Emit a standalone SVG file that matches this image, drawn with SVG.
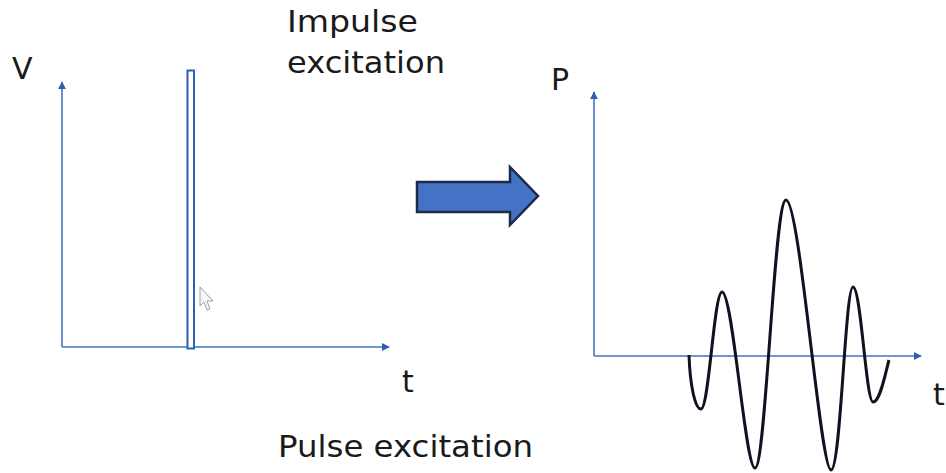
<svg xmlns="http://www.w3.org/2000/svg" width="946" height="473" viewBox="0 0 946 473">
<style>
.lbl{font-family:"DejaVu Sans","Verdana",sans-serif;font-size:30px;fill:#1a1a1a}
.axis{stroke:#4472C4;stroke-width:1.6;fill:none}
</style>
<defs>
<marker id="ah" viewBox="0 0 10 10" refX="9" refY="5" markerWidth="8" markerHeight="8" markerUnits="userSpaceOnUse" orient="auto">
<path d="M0,0 L10,5 L0,10 Z" fill="#2e5fb5"/>
</marker>
</defs>
<rect width="946" height="473" fill="#ffffff"/>
<g id="connectors">
<line class="axis" x1="62" y1="347" x2="62" y2="82" marker-end="url(#ah)"/>
<line class="axis" x1="62" y1="347" x2="389" y2="347" marker-end="url(#ah)"/>
<line class="axis" x1="594" y1="356" x2="594" y2="92" marker-end="url(#ah)"/>
<line class="axis" x1="594" y1="356" x2="921" y2="356" marker-end="url(#ah)"/>
</g>
<g id="impulse">
<rect x="187.5" y="70.5" width="6.5" height="278" fill="#ffffff" stroke="#2e5fb5" stroke-width="2"/>
</g>
<g id="block-arrow">
<path d="M417,182 L510,182 L510,167 L538,196 L510,225 L510,212 L417,212 Z" fill="#4472C4" stroke="#1c2a48" stroke-width="2.5" stroke-linejoin="miter"/>
</g>
<g id="wave">
<path d="M689,355 C690,385 695,409 701,409 C709,409 714,292 722,292 C733,292 745,468 755,468 C766,468 774,200 786,200 C800,200 820,470 831,470 C841,470 845,287 853,287 C861,287 866,402 873,402 C880,402 885,375 889,360" fill="none" stroke="#111122" stroke-width="3"/>
</g>
<g id="cursor">
<path d="M200,287 L200,306 L204,302 L207,310 L210,309 L207,301 L213,301 Z" fill="#f4f6fa" stroke="#9aa0aa" stroke-width="1"/>
</g>
<g id="labels">
<text class="lbl" x="12" y="79">V</text>
<text class="lbl" x="287" y="32" textLength="131" lengthAdjust="spacingAndGlyphs">Impulse</text>
<text class="lbl" x="287" y="73" textLength="158" lengthAdjust="spacingAndGlyphs">excitation</text>
<text class="lbl" x="402" y="392">t</text>
<text class="lbl" x="278" y="457" textLength="255" lengthAdjust="spacingAndGlyphs">Pulse excitation</text>
<text class="lbl" x="551" y="90">P</text>
<text class="lbl" x="933" y="405">t</text>
</g>
</svg>
